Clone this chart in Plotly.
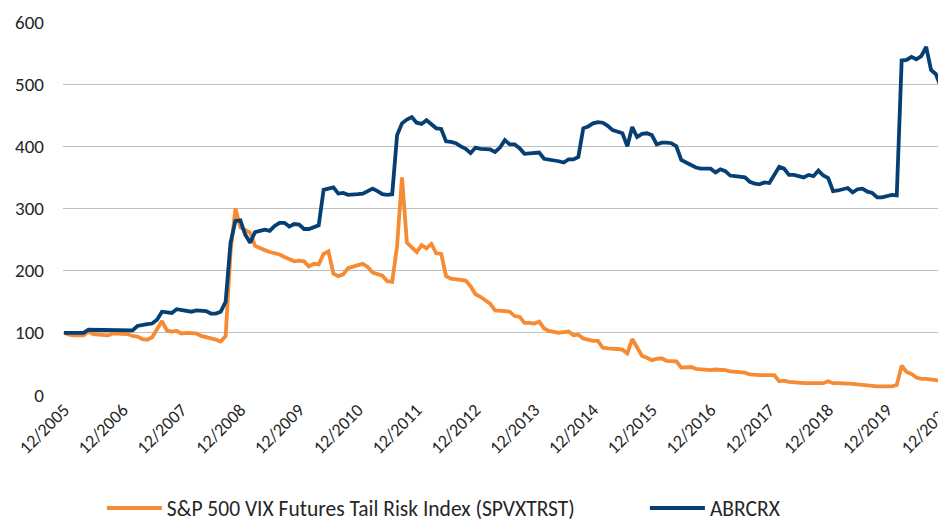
import plotly.graph_objects as go

# monthly index 0 = 12/2005 ... 180 = 12/2020
tick_labels = ["12/2005", "12/2006", "12/2007", "12/2008", "12/2009", "12/2010", "12/2011",
               "12/2012", "12/2013", "12/2014", "12/2015", "12/2016", "12/2017", "12/2018",
               "12/2019", "12/2020"]

spvxtrst = [100, 97, 96, 96, 96, 102, 98, 97, 96, 96, 99, 99, 99, 98, 95, 94, 90, 89, 93, 105,
            119, 104, 102, 103, 99, 100, 100, 99, 95, 93, 92, 89, 86, 95, 230, 300, 270, 265, 261, 240,
            236, 233, 230, 228, 226, 222, 219, 215, 216, 215, 207, 211, 210, 227, 231, 195, 191, 194, 204, 207,
            209, 211, 206, 197, 195, 192, 183, 182, 240, 350, 245, 238, 230, 241, 236, 243, 228, 227, 191, 187,
            186, 186, 184, 175, 162, 158, 152, 147, 136, 136, 135, 134, 127, 126, 116, 116, 115, 118, 107, 103,
            101, 100, 101, 102, 96, 97, 91, 89, 87, 87, 76, 75, 75, 74, 73, 67, 90, 77, 63, 60,
            56, 58, 59, 55, 55, 54, 44, 44, 45, 42, 41, 41, 40, 41, 41, 40, 38, 37, 36, 36,
            33, 32, 32, 32, 32, 32, 22, 23, 21, 20, 20, 19, 19, 19, 18, 19, 22, 19, 19, 19,
            18, 18, 17, 16, 16, 15, 14, 14, 14, 14, 16, 47, 37, 34, 28, 26, 26, 25, 25, 23,
            22]

abrcrx = [100, 100, 99, 99, 100, 105, 105, 105, 105, 105, 104, 105, 105, 105, 104, 111, 113, 114, 115, 121,
          134, 133, 132, 138, 137, 135, 134, 136, 136, 135, 131, 131, 134, 150, 245, 280, 281, 258, 245, 262,
          264, 266, 264, 272, 277, 277, 271, 275, 274, 267, 267, 270, 273, 330, 332, 334, 324, 325, 322, 322,
          323, 324, 328, 332, 328, 323, 322, 323, 418, 437, 443, 447, 438, 436, 442, 435, 429, 428, 408, 407,
          405, 400, 396, 389, 398, 396, 396, 395, 391, 398, 410, 403, 403, 397, 388, 389, 389, 390, 380, 379,
          378, 376, 374, 379, 379, 383, 429, 432, 437, 439, 438, 433, 426, 423, 421, 400, 431, 415, 420, 421,
          418, 403, 406, 406, 405, 400, 378, 374, 370, 366, 364, 364, 364, 358, 363, 360, 353, 352, 351, 350,
          343, 340, 339, 342, 341, 355, 367, 364, 354, 354, 352, 350, 354, 352, 361, 353, 349, 328, 329, 331,
          333, 326, 331, 332, 327, 325, 318, 318, 320, 322, 321, 538, 539, 544, 540, 545, 560, 523, 516, 495,
          485]

months = list(range(len(abrcrx)))
tick_vals = [12 * i for i in range(len(tick_labels))]

FONT = "Carlito, Calibri, Lato, sans-serif"
TXT = "#262626"

fig = go.Figure()
fig.add_trace(go.Scatter(x=months, y=spvxtrst, mode="lines",
                         name="S&P 500 VIX Futures Tail Risk Index (SPVXTRST)",
                         line=dict(color="#F68B33", width=3.8), legend="legend"))
fig.add_trace(go.Scatter(x=months, y=abrcrx, mode="lines", name="ABRCRX",
                         line=dict(color="#063F74", width=3.8), legend="legend2"))

leg_common = dict(orientation="h", xanchor="left", y=-0.358, yanchor="bottom",
                  font=dict(family=FONT, size=21.5, color=TXT), itemwidth=55,
                  bgcolor="rgba(0,0,0,0)")

# the page body has an 8px margin, so the figure is sized/placed to compensate
fig.update_layout(
    width=938, height=517,
    margin=dict(l=55, r=0, t=14, b=130, autoexpand=False),
    paper_bgcolor="white", plot_bgcolor="white",
    font=dict(family=FONT, size=19, color=TXT),
    showlegend=True,
    legend=dict(x=0.044, **leg_common),
    legend2=dict(x=0.659, **leg_common),
    xaxis=dict(range=[-0.2, 180.05], tickmode="array", tickvals=tick_vals, ticktext=tick_labels,
               tickangle=-45, showgrid=False, zeroline=False, showline=False, ticks="",
               automargin=False, ticklabeloverflow="allow",
               tickfont=dict(family=FONT, size=18, color=TXT)),
    yaxis=dict(range=[0, 600], tickvals=[0, 100, 200, 300, 400, 500, 600],
               showgrid=True, gridcolor="#BFBFBF", gridwidth=1, zeroline=False,
               showline=False, ticks="", ticklabelstandoff=18, automargin=False,
               tickfont=dict(family=FONT, size=19, color=TXT)),
)

fig.write_html("out.html")
